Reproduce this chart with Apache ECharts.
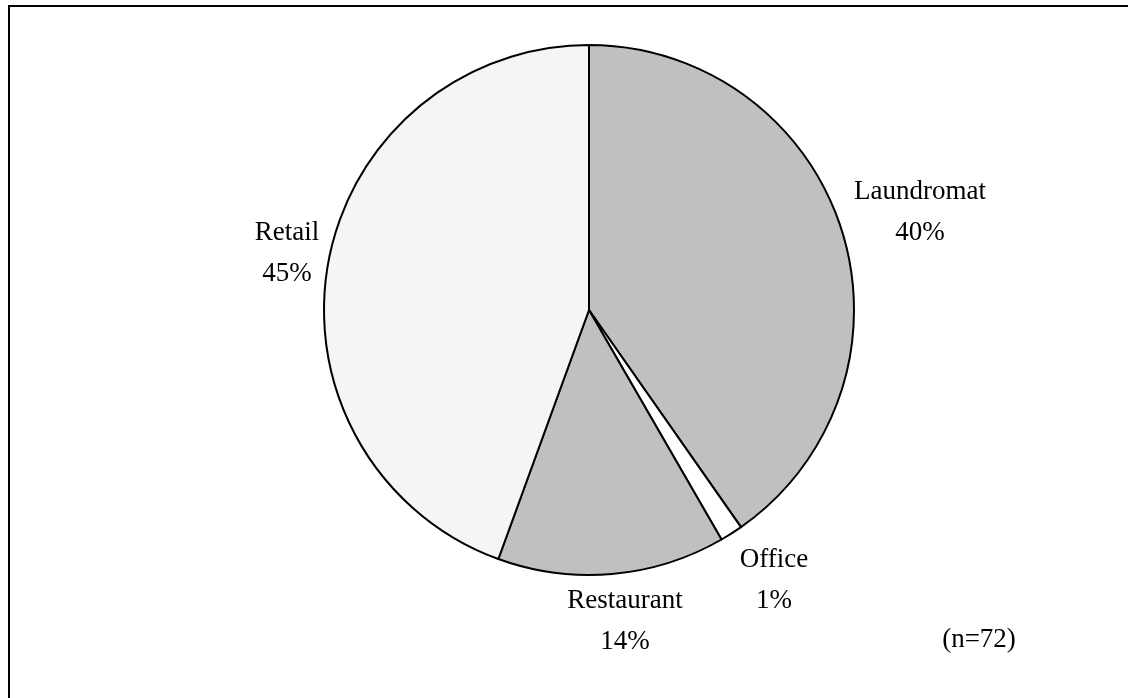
<!DOCTYPE html>
<html>
<head>
<meta charset="utf-8">
<script src="https://cdn.jsdelivr.net/npm/echarts@6/dist/echarts.min.js"></script>
<style>html,body{margin:0;padding:0;background:#fff;}#c{width:1128px;height:698px;}</style>
</head>
<body>
<div id="c"></div>
<script>
const categories = ['Laundromat', 'Office', 'Restaurant', 'Retail'];
const counts = [29, 1, 10, 32];
const sliceColors = ['#c0c0c0', '#ffffff', '#c0c0c0', '#f5f5f5'];
// label block centers (layout only)
const labelCenters = [[920, 212], [774, 580], [625, 621], [287, 253]];
const total = counts.reduce((a, b) => a + b, 0);

const chart = echarts.init(document.getElementById('c'), null, {renderer: 'canvas'});
chart.setOption({
  animation: false,
  backgroundColor: '#ffffff',
  graphic: [
    {type: 'rect', shape: {x: 9, y: 6, width: 1200, height: 800}, style: {fill: 'none', stroke: '#000', lineWidth: 2}, z: 10},
    {type: 'text', x: 979, y: 640, style: {text: '(n=' + total + ')', font: '27px "Liberation Serif"', fill: '#000', align: 'center', verticalAlign: 'middle'}}
  ],
  series: [{
    type: 'pie',
    center: [589, 310],
    radius: 265,
    startAngle: 90,
    clockwise: true,
    avoidLabelOverlap: false,
    percentPrecision: 0,
    data: categories.map((c, i) => ({name: c, value: counts[i], itemStyle: {color: sliceColors[i]}})),
    itemStyle: {borderColor: '#000', borderWidth: 2},
    emphasis: {disabled: true},
    label: {
      show: true,
      position: 'outside',
      formatter: '{b}\n{d}%',
      fontFamily: 'Liberation Serif',
      fontSize: 27,
      lineHeight: 41,
      color: '#000'
    },
    labelLine: {show: false},
    labelLayout: function (p) {
      const c = labelCenters[p.dataIndex];
      return {x: c[0], y: c[1], align: 'center', verticalAlign: 'middle'};
    }
  }]
});
</script>
</body>
</html>
